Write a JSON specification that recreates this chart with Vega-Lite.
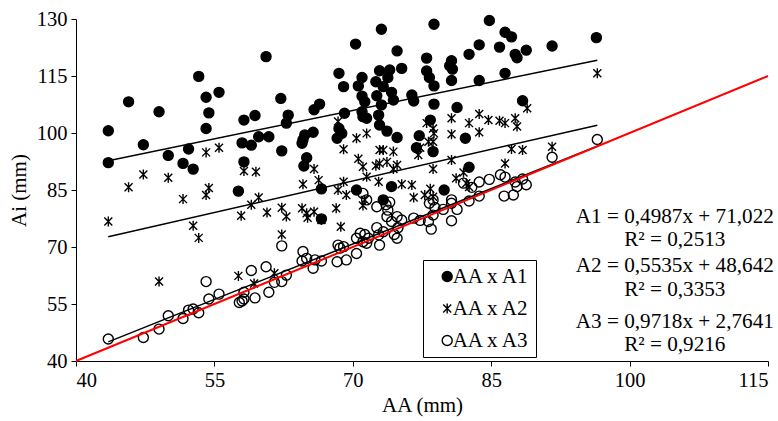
{
  "$schema": "https://vega.github.io/schema/vega-lite/v6.json",
  "width": 692,
  "height": 342,
  "autosize": "none",
  "padding": {"left": 76, "top": 19, "right": 10, "bottom": 60},
  "background": "white",
  "config": {
    "view": {"stroke": null},
    "axis": {
      "grid": false,
      "domainColor": "black",
      "domainWidth": 1,
      "tickColor": "black",
      "tickSize": 5,
      "labelFont": "Times New Roman",
      "labelFontSize": 20.5,
      "labelColor": "black",
      "titleFont": "Times New Roman",
      "titleFontSize": 21,
      "titleFontWeight": "normal",
      "titleColor": "black"
    },
    "legend": {
      "labelFont": "Times New Roman",
      "labelFontSize": 21,
      "labelColor": "black",
      "strokeColor": "black",
      "fillColor": "white",
      "padding": 6,
      "rowPadding": 10,
      "symbolOffset": 7.7,
      "labelOffset": -5,
      "symbolSize": 100,
      "symbolStrokeColor": "black",
      "symbolStrokeWidth": 1.4
    }
  },
  "datasets": {
    "pts": [
      {"aa":53.3,"ai":114.9,"s":"AA x A1"},{"aa":45.7,"ai":108.2,"s":"AA x A1"},{"aa":43.5,"ai":100.6,"s":"AA x A1"},{"aa":49.0,"ai":105.6,"s":"AA x A1"},{"aa":54.1,"ai":109.4,"s":"AA x A1"},{"aa":55.5,"ai":110.7,"s":"AA x A1"},{"aa":54.4,"ai":105.3,"s":"AA x A1"},{"aa":54.1,"ai":101.2,"s":"AA x A1"},{"aa":47.3,"ai":96.9,"s":"AA x A1"},{"aa":43.5,"ai":92.2,"s":"AA x A1"},{"aa":50.0,"ai":94.1,"s":"AA x A1"},{"aa":52.2,"ai":95.8,"s":"AA x A1"},{"aa":51.6,"ai":92.0,"s":"AA x A1"},{"aa":52.7,"ai":90.5,"s":"AA x A1"},{"aa":58.2,"ai":103.4,"s":"AA x A1"},{"aa":59.4,"ai":104.6,"s":"AA x A1"},{"aa":58.0,"ai":97.4,"s":"AA x A1"},{"aa":59.0,"ai":96.8,"s":"AA x A1"},{"aa":58.2,"ai":92.4,"s":"AA x A1"},{"aa":57.6,"ai":84.7,"s":"AA x A1"},{"aa":73.1,"ai":127.3,"s":"AA x A1"},{"aa":70.3,"ai":123.4,"s":"AA x A1"},{"aa":60.6,"ai":120.1,"s":"AA x A1"},{"aa":74.8,"ai":121.6,"s":"AA x A1"},{"aa":68.5,"ai":115.7,"s":"AA x A1"},{"aa":69.0,"ai":112.2,"s":"AA x A1"},{"aa":71.0,"ai":114.6,"s":"AA x A1"},{"aa":70.6,"ai":112.4,"s":"AA x A1"},{"aa":72.9,"ai":116.4,"s":"AA x A1"},{"aa":74.0,"ai":116.6,"s":"AA x A1"},{"aa":75.3,"ai":117.0,"s":"AA x A1"},{"aa":73.8,"ai":114.6,"s":"AA x A1"},{"aa":72.5,"ai":113.5,"s":"AA x A1"},{"aa":73.3,"ai":112.2,"s":"AA x A1"},{"aa":74.2,"ai":110.7,"s":"AA x A1"},{"aa":71.0,"ai":109.7,"s":"AA x A1"},{"aa":71.3,"ai":108.2,"s":"AA x A1"},{"aa":72.6,"ai":109.8,"s":"AA x A1"},{"aa":73.1,"ai":107.4,"s":"AA x A1"},{"aa":74.4,"ai":108.7,"s":"AA x A1"},{"aa":76.4,"ai":110.0,"s":"AA x A1"},{"aa":76.6,"ai":108.4,"s":"AA x A1"},{"aa":78.0,"ai":119.7,"s":"AA x A1"},{"aa":78.0,"ai":116.3,"s":"AA x A1"},{"aa":62.2,"ai":109.1,"s":"AA x A1"},{"aa":63.0,"ai":104.7,"s":"AA x A1"},{"aa":62.8,"ai":102.6,"s":"AA x A1"},{"aa":66.4,"ai":107.6,"s":"AA x A1"},{"aa":65.8,"ai":106.1,"s":"AA x A1"},{"aa":69.1,"ai":105.2,"s":"AA x A1"},{"aa":71.0,"ai":105.6,"s":"AA x A1"},{"aa":71.1,"ai":104.3,"s":"AA x A1"},{"aa":71.5,"ai":103.9,"s":"AA x A1"},{"aa":72.8,"ai":104.7,"s":"AA x A1"},{"aa":72.9,"ai":102.1,"s":"AA x A1"},{"aa":73.7,"ai":100.5,"s":"AA x A1"},{"aa":68.5,"ai":101.2,"s":"AA x A1"},{"aa":68.8,"ai":99.9,"s":"AA x A1"},{"aa":68.3,"ai":98.6,"s":"AA x A1"},{"aa":65.7,"ai":100.2,"s":"AA x A1"},{"aa":64.8,"ai":99.5,"s":"AA x A1"},{"aa":64.5,"ai":97.3,"s":"AA x A1"},{"aa":64.6,"ai":98.2,"s":"AA x A1"},{"aa":59.8,"ai":99.0,"s":"AA x A1"},{"aa":60.9,"ai":99.0,"s":"AA x A1"},{"aa":62.3,"ai":95.3,"s":"AA x A1"},{"aa":65.0,"ai":93.5,"s":"AA x A1"},{"aa":64.7,"ai":91.3,"s":"AA x A1"},{"aa":74.8,"ai":98.8,"s":"AA x A1"},{"aa":77.2,"ai":99.3,"s":"AA x A1"},{"aa":76.9,"ai":96.1,"s":"AA x A1"},{"aa":78.4,"ai":103.4,"s":"AA x A1"},{"aa":66.6,"ai":85.3,"s":"AA x A1"},{"aa":70.4,"ai":85.0,"s":"AA x A1"},{"aa":74.2,"ai":85.9,"s":"AA x A1"},{"aa":73.3,"ai":82.4,"s":"AA x A1"},{"aa":66.6,"ai":77.4,"s":"AA x A1"},{"aa":78.8,"ai":128.6,"s":"AA x A1"},{"aa":84.8,"ai":129.6,"s":"AA x A1"},{"aa":86.5,"ai":126.5,"s":"AA x A1"},{"aa":87.2,"ai":125.3,"s":"AA x A1"},{"aa":96.4,"ai":125.1,"s":"AA x A1"},{"aa":91.6,"ai":122.9,"s":"AA x A1"},{"aa":88.8,"ai":121.8,"s":"AA x A1"},{"aa":83.7,"ai":123.2,"s":"AA x A1"},{"aa":85.9,"ai":122.6,"s":"AA x A1"},{"aa":82.6,"ai":120.7,"s":"AA x A1"},{"aa":87.6,"ai":120.7,"s":"AA x A1"},{"aa":87.8,"ai":119.8,"s":"AA x A1"},{"aa":80.7,"ai":119.0,"s":"AA x A1"},{"aa":80.5,"ai":117.7,"s":"AA x A1"},{"aa":80.8,"ai":116.8,"s":"AA x A1"},{"aa":78.3,"ai":114.6,"s":"AA x A1"},{"aa":78.8,"ai":112.4,"s":"AA x A1"},{"aa":80.7,"ai":113.8,"s":"AA x A1"},{"aa":83.7,"ai":113.8,"s":"AA x A1"},{"aa":86.5,"ai":115.7,"s":"AA x A1"},{"aa":78.8,"ai":107.6,"s":"AA x A1"},{"aa":81.3,"ai":106.7,"s":"AA x A1"},{"aa":88.4,"ai":108.5,"s":"AA x A1"},{"aa":82.2,"ai":98.6,"s":"AA x A1"},{"aa":78.7,"ai":95.1,"s":"AA x A1"},{"aa":82.6,"ai":91.0,"s":"AA x A1"},{"aa":79.9,"ai":85.0,"s":"AA x A1"},
      {"aa":54.1,"ai":94.9,"s":"AA x A2"},{"aa":55.5,"ai":96.1,"s":"AA x A2"},{"aa":47.3,"ai":89.1,"s":"AA x A2"},{"aa":50.0,"ai":88.2,"s":"AA x A2"},{"aa":45.7,"ai":85.7,"s":"AA x A2"},{"aa":54.4,"ai":85.5,"s":"AA x A2"},{"aa":58.2,"ai":90.0,"s":"AA x A2"},{"aa":59.5,"ai":89.8,"s":"AA x A2"},{"aa":68.4,"ai":103.0,"s":"AA x A2"},{"aa":70.4,"ai":98.6,"s":"AA x A2"},{"aa":71.5,"ai":99.9,"s":"AA x A2"},{"aa":69.0,"ai":95.7,"s":"AA x A2"},{"aa":72.9,"ai":95.5,"s":"AA x A2"},{"aa":73.3,"ai":95.5,"s":"AA x A2"},{"aa":74.4,"ai":95.1,"s":"AA x A2"},{"aa":70.6,"ai":93.2,"s":"AA x A2"},{"aa":71.1,"ai":91.1,"s":"AA x A2"},{"aa":72.5,"ai":91.4,"s":"AA x A2"},{"aa":72.9,"ai":92.0,"s":"AA x A2"},{"aa":73.7,"ai":92.4,"s":"AA x A2"},{"aa":74.8,"ai":91.6,"s":"AA x A2"},{"aa":74.4,"ai":90.5,"s":"AA x A2"},{"aa":65.8,"ai":90.5,"s":"AA x A2"},{"aa":71.5,"ai":88.5,"s":"AA x A2"},{"aa":64.6,"ai":86.5,"s":"AA x A2"},{"aa":66.3,"ai":87.6,"s":"AA x A2"},{"aa":69.0,"ai":87.2,"s":"AA x A2"},{"aa":72.8,"ai":87.2,"s":"AA x A2"},{"aa":75.3,"ai":86.5,"s":"AA x A2"},{"aa":76.4,"ai":86.3,"s":"AA x A2"},{"aa":77.1,"ai":94.2,"s":"AA x A2"},{"aa":78.0,"ai":102.6,"s":"AA x A2"},{"aa":43.5,"ai":76.7,"s":"AA x A2"},{"aa":51.6,"ai":82.6,"s":"AA x A2"},{"aa":54.1,"ai":83.7,"s":"AA x A2"},{"aa":52.7,"ai":75.6,"s":"AA x A2"},{"aa":53.3,"ai":72.4,"s":"AA x A2"},{"aa":57.9,"ai":78.2,"s":"AA x A2"},{"aa":59.0,"ai":81.1,"s":"AA x A2"},{"aa":49.0,"ai":60.9,"s":"AA x A2"},{"aa":57.6,"ai":62.4,"s":"AA x A2"},{"aa":59.8,"ai":83.0,"s":"AA x A2"},{"aa":60.7,"ai":79.1,"s":"AA x A2"},{"aa":62.3,"ai":80.3,"s":"AA x A2"},{"aa":62.8,"ai":78.0,"s":"AA x A2"},{"aa":64.5,"ai":80.2,"s":"AA x A2"},{"aa":65.0,"ai":78.9,"s":"AA x A2"},{"aa":65.8,"ai":79.3,"s":"AA x A2"},{"aa":65.1,"ai":77.7,"s":"AA x A2"},{"aa":66.6,"ai":77.1,"s":"AA x A2"},{"aa":68.2,"ai":80.2,"s":"AA x A2"},{"aa":68.7,"ai":75.3,"s":"AA x A2"},{"aa":68.4,"ai":85.0,"s":"AA x A2"},{"aa":69.3,"ai":83.7,"s":"AA x A2"},{"aa":71.3,"ai":82.4,"s":"AA x A2"},{"aa":71.1,"ai":80.9,"s":"AA x A2"},{"aa":76.6,"ai":83.0,"s":"AA x A2"},{"aa":77.8,"ai":83.7,"s":"AA x A2"},{"aa":62.3,"ai":73.3,"s":"AA x A2"},{"aa":59.3,"ai":60.4,"s":"AA x A2"},{"aa":61.5,"ai":63.1,"s":"AA x A2"},{"aa":96.5,"ai":115.7,"s":"AA x A2"},{"aa":88.9,"ai":106.5,"s":"AA x A2"},{"aa":83.7,"ai":105.0,"s":"AA x A2"},{"aa":80.7,"ai":103.9,"s":"AA x A2"},{"aa":82.6,"ai":102.6,"s":"AA x A2"},{"aa":84.7,"ai":103.4,"s":"AA x A2"},{"aa":85.9,"ai":103.2,"s":"AA x A2"},{"aa":86.5,"ai":102.6,"s":"AA x A2"},{"aa":87.6,"ai":103.9,"s":"AA x A2"},{"aa":87.8,"ai":101.7,"s":"AA x A2"},{"aa":83.7,"ai":100.2,"s":"AA x A2"},{"aa":80.7,"ai":99.7,"s":"AA x A2"},{"aa":78.7,"ai":101.2,"s":"AA x A2"},{"aa":78.8,"ai":99.9,"s":"AA x A2"},{"aa":78.2,"ai":97.7,"s":"AA x A2"},{"aa":78.7,"ai":97.7,"s":"AA x A2"},{"aa":77.3,"ai":96.1,"s":"AA x A2"},{"aa":87.2,"ai":95.8,"s":"AA x A2"},{"aa":88.4,"ai":95.5,"s":"AA x A2"},{"aa":91.6,"ai":96.4,"s":"AA x A2"},{"aa":80.7,"ai":92.9,"s":"AA x A2"},{"aa":86.5,"ai":92.0,"s":"AA x A2"},{"aa":78.7,"ai":90.5,"s":"AA x A2"},{"aa":82.0,"ai":89.6,"s":"AA x A2"},{"aa":81.2,"ai":88.1,"s":"AA x A2"},{"aa":82.3,"ai":86.8,"s":"AA x A2"},{"aa":82.6,"ai":85.8,"s":"AA x A2"},{"aa":78.4,"ai":85.3,"s":"AA x A2"},{"aa":78.7,"ai":83.2,"s":"AA x A2"},
      {"aa":96.5,"ai":98.3,"s":"AA x A3"},{"aa":91.6,"ai":93.6,"s":"AA x A3"},{"aa":86.0,"ai":89.0,"s":"AA x A3"},{"aa":84.8,"ai":87.8,"s":"AA x A3"},{"aa":83.7,"ai":87.1,"s":"AA x A3"},{"aa":86.5,"ai":88.4,"s":"AA x A3"},{"aa":87.6,"ai":87.1,"s":"AA x A3"},{"aa":88.4,"ai":87.9,"s":"AA x A3"},{"aa":88.8,"ai":86.4,"s":"AA x A3"},{"aa":87.8,"ai":85.9,"s":"AA x A3"},{"aa":82.0,"ai":86.8,"s":"AA x A3"},{"aa":82.9,"ai":85.7,"s":"AA x A3"},{"aa":87.4,"ai":83.7,"s":"AA x A3"},{"aa":86.4,"ai":83.4,"s":"AA x A3"},{"aa":83.7,"ai":83.4,"s":"AA x A3"},{"aa":82.6,"ai":82.1,"s":"AA x A3"},{"aa":80.7,"ai":82.4,"s":"AA x A3"},{"aa":80.7,"ai":81.5,"s":"AA x A3"},{"aa":81.3,"ai":79.9,"s":"AA x A3"},{"aa":78.7,"ai":82.4,"s":"AA x A3"},{"aa":78.3,"ai":81.5,"s":"AA x A3"},{"aa":78.9,"ai":80.4,"s":"AA x A3"},{"aa":79.8,"ai":79.9,"s":"AA x A3"},{"aa":78.7,"ai":78.4,"s":"AA x A3"},{"aa":78.2,"ai":76.7,"s":"AA x A3"},{"aa":78.5,"ai":74.7,"s":"AA x A3"},{"aa":80.7,"ai":76.9,"s":"AA x A3"},{"aa":77.3,"ai":77.0,"s":"AA x A3"},{"aa":43.5,"ai":45.8,"s":"AA x A3"},{"aa":47.3,"ai":46.2,"s":"AA x A3"},{"aa":49.0,"ai":48.4,"s":"AA x A3"},{"aa":50.0,"ai":51.9,"s":"AA x A3"},{"aa":51.6,"ai":51.2,"s":"AA x A3"},{"aa":52.2,"ai":53.4,"s":"AA x A3"},{"aa":52.7,"ai":53.7,"s":"AA x A3"},{"aa":53.3,"ai":52.7,"s":"AA x A3"},{"aa":54.1,"ai":60.9,"s":"AA x A3"},{"aa":54.4,"ai":56.3,"s":"AA x A3"},{"aa":55.5,"ai":57.6,"s":"AA x A3"},{"aa":57.7,"ai":55.4,"s":"AA x A3"},{"aa":58.0,"ai":55.8,"s":"AA x A3"},{"aa":58.2,"ai":56.3,"s":"AA x A3"},{"aa":58.2,"ai":58.1,"s":"AA x A3"},{"aa":59.0,"ai":63.8,"s":"AA x A3"},{"aa":59.4,"ai":56.6,"s":"AA x A3"},{"aa":62.3,"ai":70.3,"s":"AA x A3"},{"aa":71.1,"ai":84.1,"s":"AA x A3"},{"aa":71.5,"ai":82.4,"s":"AA x A3"},{"aa":72.6,"ai":80.6,"s":"AA x A3"},{"aa":73.6,"ai":81.1,"s":"AA x A3"},{"aa":74.0,"ai":81.8,"s":"AA x A3"},{"aa":73.8,"ai":79.7,"s":"AA x A3"},{"aa":73.7,"ai":78.0,"s":"AA x A3"},{"aa":74.2,"ai":76.7,"s":"AA x A3"},{"aa":74.8,"ai":78.0,"s":"AA x A3"},{"aa":75.3,"ai":77.1,"s":"AA x A3"},{"aa":74.9,"ai":75.1,"s":"AA x A3"},{"aa":74.5,"ai":73.3,"s":"AA x A3"},{"aa":74.8,"ai":72.3,"s":"AA x A3"},{"aa":73.3,"ai":74.0,"s":"AA x A3"},{"aa":72.8,"ai":73.2,"s":"AA x A3"},{"aa":72.9,"ai":70.5,"s":"AA x A3"},{"aa":72.6,"ai":75.1,"s":"AA x A3"},{"aa":71.7,"ai":72.3,"s":"AA x A3"},{"aa":71.3,"ai":73.3,"s":"AA x A3"},{"aa":70.8,"ai":73.6,"s":"AA x A3"},{"aa":70.4,"ai":72.3,"s":"AA x A3"},{"aa":71.1,"ai":71.4,"s":"AA x A3"},{"aa":71.5,"ai":71.0,"s":"AA x A3"},{"aa":68.4,"ai":70.5,"s":"AA x A3"},{"aa":69.0,"ai":70.1,"s":"AA x A3"},{"aa":68.6,"ai":69.7,"s":"AA x A3"},{"aa":70.4,"ai":68.3,"s":"AA x A3"},{"aa":69.3,"ai":66.6,"s":"AA x A3"},{"aa":68.3,"ai":66.1,"s":"AA x A3"},{"aa":66.6,"ai":66.3,"s":"AA x A3"},{"aa":65.9,"ai":66.6,"s":"AA x A3"},{"aa":64.6,"ai":68.8,"s":"AA x A3"},{"aa":64.5,"ai":66.3,"s":"AA x A3"},{"aa":65.0,"ai":67.0,"s":"AA x A3"},{"aa":65.7,"ai":64.4,"s":"AA x A3"},{"aa":76.6,"ai":77.6,"s":"AA x A3"},{"aa":60.6,"ai":64.8,"s":"AA x A3"},{"aa":62.8,"ai":62.6,"s":"AA x A3"},{"aa":62.3,"ai":60.9,"s":"AA x A3"},{"aa":61.5,"ai":60.7,"s":"AA x A3"},{"aa":60.9,"ai":58.1,"s":"AA x A3"}
    ],
    "trend": [
      {"aa":43.5,"ai":92.71,"s":"A1"},{"aa":96.5,"ai":119.15,"s":"A1"},
      {"aa":43.5,"ai":72.72,"s":"A2"},{"aa":96.5,"ai":102.06,"s":"A2"},
      {"aa":43.5,"ai":45.04,"s":"A3"},{"aa":96.5,"ai":96.54,"s":"A3"}
    ],
    "ref": [
      {"aa":40,"ai":40},{"aa":115,"ai":115}
    ],
    "eq": [
      {"aa":104.9,"ai":78.0,"t":"A1 = 0,4987x + 71,022"},
      {"aa":104.9,"ai":71.8,"t":"R² = 0,2513"},
      {"aa":104.9,"ai":65.1,"t":"A2 = 0,5535x + 48,642"},
      {"aa":104.9,"ai":58.7,"t":"R² = 0,3353"},
      {"aa":104.9,"ai":50.3,"t":"A3 = 0,9718x + 2,7641"},
      {"aa":104.9,"ai":44.2,"t":"R² = 0,9216"}
    ]
  },
  "encoding": {
    "x": {"field": "aa", "type": "quantitative", "scale": {"domain": [40, 115], "nice": false, "zero": false},
      "axis": {"values": [40, 55, 70, 85, 100, 115], "title": "AA (mm)", "labelPadding": 4, "titlePadding": 4}},
    "y": {"field": "ai", "type": "quantitative", "scale": {"domain": [40, 130], "nice": false, "zero": false},
      "axis": {"values": [40, 55, 70, 85, 100, 115, 130], "title": "Ai (mm)", "labelPadding": 4, "titlePadding": 7}}
  },
  "layer": [
    {
      "data": {"name": "pts"},
      "mark": {"type": "point", "filled": false, "strokeWidth": 1.4, "size": 100, "opacity": 1},
      "encoding": {
        "shape": {"field": "s", "type": "nominal",
          "scale": {"domain": ["AA x A1", "AA x A2", "AA x A3"], "range": ["circle", "M-0.8,-0.8L0.8,0.8M-0.8,0.8L0.8,-0.8M0,-1L0,1", "circle"]},
          "legend": {"title": null, "orient": "none", "legendX": 347, "legendY": 241}},
        "fill": {"field": "s", "type": "nominal",
          "scale": {"domain": ["AA x A1", "AA x A2", "AA x A3"], "range": ["black", "transparent", "transparent"]},
          "legend": {"title": null, "orient": "none", "legendX": 347, "legendY": 241}},
        "stroke": {"field": "s", "type": "nominal",
          "scale": {"domain": ["AA x A1", "AA x A2", "AA x A3"], "range": ["black", "black", "black"]},
          "legend": {"title": null, "orient": "none", "legendX": 347, "legendY": 241}}
      }
    },
    {
      "data": {"name": "trend"},
      "mark": {"type": "line", "color": "black", "strokeWidth": 1.5},
      "encoding": {"detail": {"field": "s", "type": "nominal"}}
    },
    {
      "data": {"name": "ref"},
      "mark": {"type": "line", "color": "#FF0000", "strokeWidth": 2},
      "encoding": {}
    },
    {
      "data": {"name": "eq"},
      "mark": {"type": "text", "font": "Times New Roman", "fontSize": 21.2, "align": "center", "baseline": "middle", "color": "black"},
      "encoding": {"text": {"field": "t", "type": "nominal"}}
    }
  ]
}
